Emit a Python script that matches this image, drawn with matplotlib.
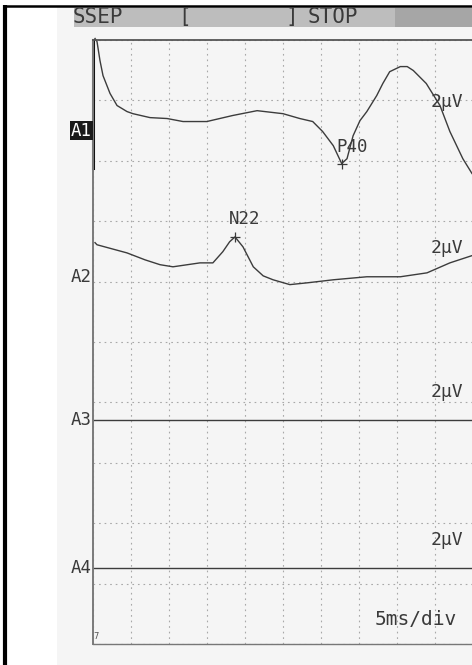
import numpy as np
import matplotlib.pyplot as plt
from matplotlib.patches import Rectangle

# time axis in ms (5 ms/div, 10 div), amplitudes in uV (2 uV/div)
a1_t = [0.33, 0.59, 0.98, 1.38, 2.3, 3.22, 4.53, 5.31, 7.55, 9.78, 11.88, 15.0,
        18.4, 21.6, 25.0, 27.2, 28.9, 30.2, 31.6, 32.7, 33.4, 34.2, 35.1, 36.0,
        37.3, 38.1, 39.0, 40.4, 41.3, 42.1, 43.8, 45.6, 46.9, 48.6, 49.8]
a1_v = [3.05, 2.95, 2.32, 1.82, 1.23, 0.83, 0.63, 0.56, 0.43, 0.40, 0.30, 0.30,
        0.50, 0.66, 0.56, 0.40, 0.30, -0.03, -0.50, -1.09, -0.93, -0.17, 0.33, 0.63,
        1.16, 1.56, 1.95, 2.12, 2.12, 1.99, 1.56, 0.83, -0.03, -0.93, -1.42]

a2_t = [0.33, 0.59, 4.53, 6.9, 8.86, 10.56, 14.1, 15.8, 17.1, 18.0, 18.7, 19.75,
        21.1, 22.4, 23.7, 25.9, 28.2, 31.6, 36.0, 40.4, 43.9, 46.9, 49.8]
a2_v = [1.13, 1.06, 0.79, 0.56, 0.40, 0.33, 0.46, 0.46, 0.83, 1.16, 1.32, 0.99,
        0.33, 0.03, -0.10, -0.26, -0.20, -0.10, 0.0, 0.0, 0.13, 0.46, 0.70]

a3_t = [0.0, 50.0]
a3_v = [0.0, 0.0]
a4_t = [0.0, 50.0]
a4_v = [0.0, 0.0]

channels = ['A1', 'A2', 'A3', 'A4']
baselines = [8.5, 6.08, 3.71, 1.26]   # in divisions from bottom
uv_per_div = 2.0
p40 = (32.7, -1.09)
n22 = (18.7, 1.32)

MONO = 'DejaVu Sans Mono'
INK = '#3a3a3a'

W, H = 472, 665
fig = plt.figure(figsize=(W / 100, H / 100), dpi=100)

# scan decorations in pixel coordinates
bg = fig.add_axes([0, 0, 1, 1])
bg.set_xlim(0, W)
bg.set_ylim(H, 0)
bg.axis('off')
bg.add_patch(Rectangle((57, 7), W - 57, H - 7, color='#f5f5f5', lw=0))
bg.add_patch(Rectangle((74, 8), W - 74, 19, color='#bdbdbd', lw=0))
bg.add_patch(Rectangle((395, 8), W - 395, 19, color='#a6a6a6', lw=0))
bg.plot([5, 5], [5, H], color='black', lw=3, solid_capstyle='butt')
bg.plot([4, W], [6, 6], color='black', lw=1.8, solid_capstyle='butt')
txt = dict(fontsize=15, family=MONO, color=INK, va='center', ha='left')
bg.text(73, 17, 'SSEP', **txt)
bg.text(178, 17, '[', **txt)
bg.text(285, 17, ']', **txt)
bg.text(308, 17, 'STOP', **txt)

ax = fig.add_axes([92.5 / W, 21 / H, 381 / W, 604 / H])
ax.set_xlim(0, 50)
ax.set_ylim(0, 10)
ax.patch.set_alpha(0)
ax.set_xticks(np.arange(0, 51, 5))
ax.set_yticks(np.arange(0, 11, 1))
ax.tick_params(left=False, bottom=False, labelleft=False, labelbottom=False)
ax.grid(True, color='#a8a8a8', lw=0.8, linestyle=(0, (1.5, 3.5)))
ax.spines['right'].set_visible(False)
ax.spines['left'].set_color('#7a7a7a')
ax.spines['left'].set_linewidth(1.4)
ax.spines['top'].set_color('#555555')
ax.spines['top'].set_linewidth(1.3)
ax.spines['bottom'].set_color('#777777')
ax.spines['bottom'].set_linewidth(1.0)
ax.plot([0, 0], [7.88, 10], color='#111111', lw=2.2, clip_on=False)

traces = [(a1_t, a1_v), (a2_t, a2_v), (a3_t, a3_v), (a4_t, a4_v)]
for (t, v), base, name in zip(traces, baselines, channels):
    y = base + np.array(v) / uv_per_div
    ax.plot(t, y, color='#3c3c3c', lw=1.0, clip_on=False)
    ax.text(48.6, base + 0.47, '2\u03bcV', fontsize=13, family=MONO, color=INK,
            ha='right', va='center')
    if name == 'A1':
        ax.text(-0.1, base, name, fontsize=12.5, family=MONO, color='white',
                ha='right', va='center',
                bbox=dict(boxstyle='square,pad=0.05', fc='#1a1a1a', ec='none'))
    else:
        ax.text(-0.1, base, name, fontsize=12.5, family=MONO, color=INK,
                ha='right', va='center')

ax.plot(p40[0], baselines[0] + p40[1] / uv_per_div, marker='+', ms=7, color=INK, mew=0.9)
ax.text(p40[0] + 1.4, baselines[0] + p40[1] / uv_per_div + 0.27, 'P40', fontsize=12.5,
        family=MONO, color=INK, ha='center', va='center')
ax.plot(n22[0], baselines[1] + n22[1] / uv_per_div, marker='+', ms=7, color=INK, mew=0.9)
ax.text(n22[0] + 1.3, baselines[1] + n22[1] / uv_per_div + 0.30, 'N22', fontsize=12.5,
        family=MONO, color=INK, ha='center', va='center')

ax.text(47.8, 0.40, '5ms/div', fontsize=14, family=MONO, color=INK, ha='right', va='center')
ax.text(0.1, 0.12, '7', fontsize=6, color='#555555', ha='left', va='center')

fig.savefig('out.png', dpi=100)
